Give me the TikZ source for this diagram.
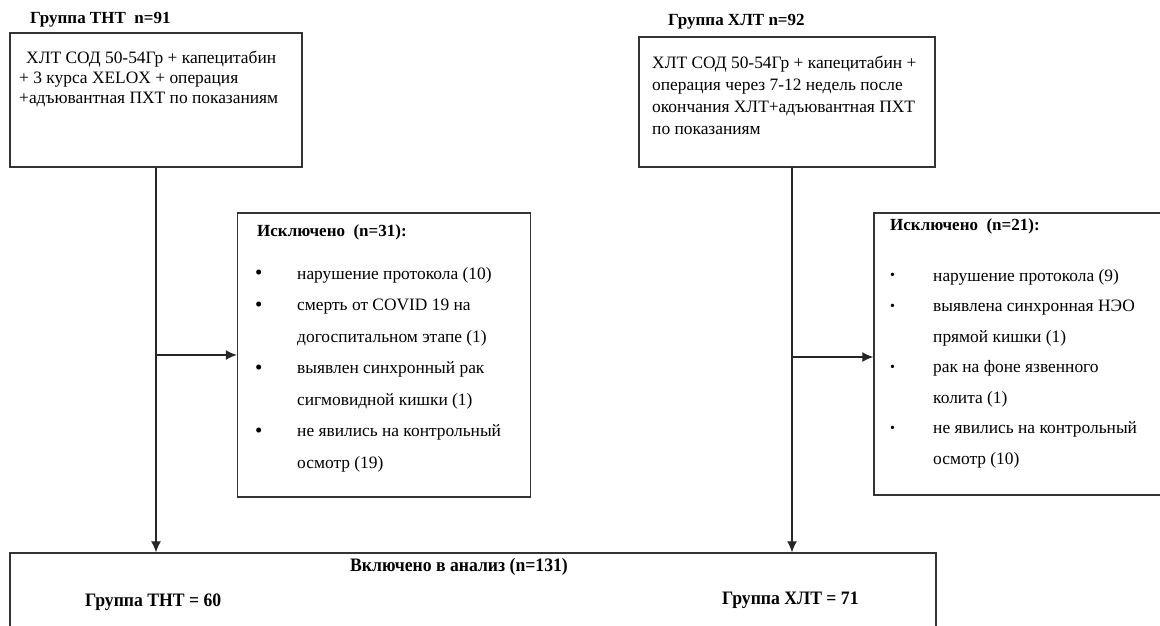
\documentclass[tikz,border=0pt]{standalone}
\usepackage{fontspec}
\setmainfont{Liberation Serif}
\usetikzlibrary{arrows.meta}
\newcommand{\bigbul}{\raisebox{-0.5pt}{\fontsize{21}{21}\selectfont\textbullet}}
\newcommand{\smallbul}{\raisebox{1.5pt}{\fontsize{14}{14}\selectfont\textbullet}}
\begin{document}
\begin{tikzpicture}[x=1pt,y=-1pt,
  box/.style={draw=black!80,line width=1.4pt,rectangle,inner sep=0pt},
  txt/.style={inner sep=0pt,anchor=north west,align=left,font=\fontsize{17.4}{20}\selectfont},
  ttl/.style={inner sep=0pt,anchor=west,font=\fontsize{17}{20}\selectfont\bfseries},
  btxt/.style={inner sep=0pt,font=\fontsize{19}{22}\selectfont\bfseries},
  conn/.style={draw=black!85,line width=1.3pt},
  arr/.style={conn,-{Latex[length=11pt,width=10pt]}}]
\useasboundingbox (0,0) rectangle (1160,625);
\clip (0,0) rectangle (1160,625);
% boxes
\node[box,minimum width=292pt,minimum height=134pt] (box1) at (156,100) {};
\node[box,minimum width=296pt,minimum height=130pt] (box2) at (787,102) {};
\node[box,minimum width=293pt,minimum height=284pt] (excl1) at (384,355) {};
\node[box,minimum width=296pt,minimum height=282pt] (excl2) at (1022,354) {};
\node[box,minimum width=926pt,minimum height=87pt] (incl) at (473,596.5) {};
% titles
\node[ttl] (t1) at (30,20) {Группа ТНТ\ \ n=91};
\node[ttl] (t2) at (668,22) {Группа ХЛТ n=92};
% box texts
\node[txt] (b1t) at (19,51) {\hspace*{7pt}ХЛТ СОД 50-54Гр + капецитабин\\+ 3 курса XELOX + операция\\+адъювантная ПХТ по показаниям};
\node[txt,font=\fontsize{17.4}{22}\selectfont] (b2t) at (652,56) {ХЛТ СОД 50-54Гр + капецитабин +\\операция через 7-12 недель после\\окончания ХЛТ+адъювантная ПХТ\\по показаниям};
% excluded 1
\node[ttl] (e1h) at (257,232) {Исключено\ \ (n=31):};
\node[txt,font=\fontsize{17.4}{31.5}\selectfont] (e1t) at (255,267) {%
\makebox[42pt][l]{\bigbul}нарушение протокола (10)\\
\makebox[42pt][l]{\bigbul}смерть от COVID 19 на\\
\hspace*{42pt}догоспитальном этапе (1)\\
\makebox[42pt][l]{\bigbul}выявлен синхронный рак\\
\hspace*{42pt}сигмовидной кишки (1)\\
\makebox[42pt][l]{\bigbul}не явились на контрольный\\
\hspace*{42pt}осмотр (19)};
% excluded 2
\node[txt,font=\fontsize{17.4}{30.5}\selectfont] (e2t) at (890,269) {%
\makebox[43pt][l]{\smallbul}нарушение протокола (9)\\
\makebox[43pt][l]{\smallbul}выявлена синхронная НЭО\\
\hspace*{43pt}прямой кишки (1)\\
\makebox[43pt][l]{\smallbul}рак на фоне язвенного\\
\hspace*{43pt}колита (1)\\
\makebox[43pt][l]{\smallbul}не явились на контрольный\\
\hspace*{43pt}осмотр (10)};
\node[ttl] (e2h) at (890,226) {Исключено\ \ (n=21):};
% included
\node[btxt] (it) at (459,567) {\scalebox{0.93}[1]{Включено в анализ (n=131)}};
\node[btxt,anchor=west] (ig1) at (85,602) {\scalebox{0.93}[1]{Группа ТНТ = 60}};
\node[btxt,anchor=west] (ig2) at (722,600) {\scalebox{0.93}[1]{Группа ХЛТ = 71}};
% connectors
\coordinate (v1) at (box1.south);
\coordinate (v2) at (792,167);
\draw[arr] (v1) -- (v1 |- incl.north);
\draw[arr] (v1 |- excl1.west) -- (excl1.west);
\draw[arr] (v2) -- (v2 |- incl.north);
\draw[arr] (v2 |- 0,357) -- (excl2.west |- 0,357);
\end{tikzpicture}
\end{document}
